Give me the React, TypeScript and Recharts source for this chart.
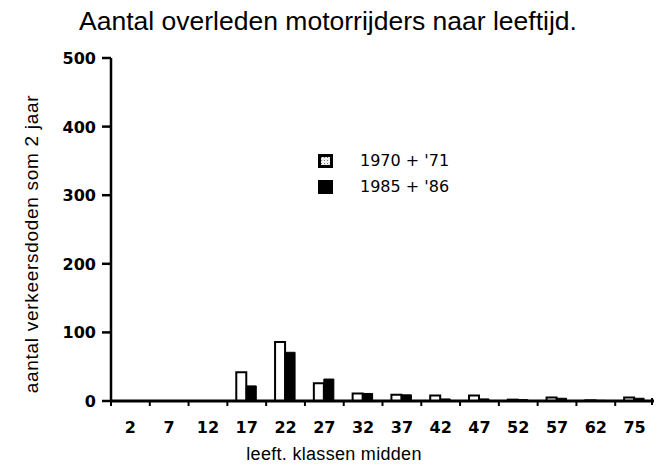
import React from 'react';
import { BarChart, Bar, XAxis, YAxis, Legend } from 'recharts';

const ageClasses = ['2', '7', '12', '17', '22', '27', '32', '37', '42', '47', '52', '57', '62', '75'];
const deaths1970 = [0, 0, 0, 42, 86, 26, 11, 9, 8, 8, 2, 5, 1, 5];
const deaths1985 = [0, 0, 0, 22, 71, 32, 11, 9, 3, 3, 2, 4, 1, 4];
const yTicks = [0, 100, 200, 300, 400, 500];
const seriesNames = ["1970 + '71", "1985 + '86"];

const data = ageClasses.map((c, i) => ({ age: c, a: deaths1970[i], b: deaths1985[i] }));

const FONT = '"Liberation Sans", Arial, Helvetica, sans-serif';
const WIDE = '"DejaVu Sans", Verdana, sans-serif';

const XTick = (props: any) => {
  const { x, y, payload, index, visibleTicksCount } = props;
  const off = payload && payload.offset ? payload.offset : 19.4;
  const isLast = index === (visibleTicksCount ?? ageClasses.length) - 1;
  return (
    <g>
      <line x1={x - off} x2={x - off} y1={y} y2={y + 5} stroke="#000" strokeWidth={2} />
      {isLast && <line x1={x + off - 2} x2={x + off - 2} y1={y - 3} y2={y + 4} stroke="#000" strokeWidth={2} />}
      <text x={x} y={y + 32} textAnchor="middle" fontFamily={WIDE} fontWeight="bold" fontSize={16} fill="#000">
        {payload.value}
      </text>
    </g>
  );
};

const YTick = (props: any) => {
  const { x, y, payload } = props;
  return (
    <text x={x - 6} y={y + 6} textAnchor="end" fontFamily={WIDE} fontWeight="bold" fontSize={16} fill="#000">
      {payload.value}
    </text>
  );
};

const LegendContent = () => (
  <div style={{ fontFamily: WIDE, fontSize: 16, color: '#000', lineHeight: '26px' }}>
    {seriesNames.map((n, i) => (
      <div key={n} style={{ display: 'flex', alignItems: 'center' }}>
        <svg width={15} height={14} style={{ marginRight: 27 }}>
          <defs>
            <pattern id={`lp${i}`} width={3} height={3} patternUnits="userSpaceOnUse">
              <rect width={3} height={3} fill="#eee" />
              <rect width={1} height={1} fill="#777" />
            </pattern>
          </defs>
          {i === 0 ? (
            <rect x={1.5} y={1.5} width={12} height={11} fill={`url(#lp${i})`} stroke="#000" strokeWidth={3} />
          ) : (
            <rect x={0} y={0} width={15} height={14} fill="#000" />
          )}
        </svg>
        <span>{n}</span>
      </div>
    ))}
  </div>
);

export default function App() {
  return (
    <div style={{ position: 'absolute', left: 0, top: 0, width: 665, height: 470, background: '#fff' }}>
      <BarChart
        width={665}
        height={470}
        data={data}
        margin={{ top: 58, right: 11, bottom: 0, left: 0 }}
        barCategoryGap="23%"
        barGap={0}
      >
        <text x={328} y={30} textAnchor="middle" fontFamily={FONT} fontSize={26.5} fill="#000">
          Aantal overleden motorrijders naar leeftijd.
        </text>
        <text
          x={0}
          y={0}
          transform="translate(38 244) rotate(-90)"
          textAnchor="middle"
          fontFamily={FONT}
          fontSize={19}
          letterSpacing={0.7}
          fill="#000"
        >
          aantal verkeersdoden som 2 jaar
        </text>
        <text x={334} y={460} textAnchor="middle" fontFamily={FONT} fontSize={18} letterSpacing={0.3} fill="#000">
          leeft. klassen midden
        </text>
        <XAxis
          dataKey="age"
          height={69}
          tickLine={false}
          tickSize={0}
          tickMargin={0}
          interval={0}
          axisLine={{ stroke: '#000', strokeWidth: 3 }}
          tick={<XTick />}
        />
        <YAxis
          width={111}
          domain={[0, 500]}
          ticks={yTicks}
          interval={0}
          tickSize={9}
          tickMargin={0}
          axisLine={{ stroke: '#000', strokeWidth: 2.5 }}
          tickLine={{ stroke: '#000', strokeWidth: 2.5 }}
          tick={<YTick />}
        />
        <Legend
          layout="horizontal"
          verticalAlign="middle"
          align="center"
          content={<LegendContent />}
          wrapperStyle={{ position: 'absolute', left: 318, top: 148, width: 200, height: 60 }}
        />
        <Bar dataKey="a" name={seriesNames[0]} fill="#fff" stroke="#000" strokeWidth={2} isAnimationActive={false} />
        <Bar dataKey="b" name={seriesNames[1]} fill="#000" stroke="#000" strokeWidth={1} isAnimationActive={false} />
      </BarChart>
    </div>
  );
}
